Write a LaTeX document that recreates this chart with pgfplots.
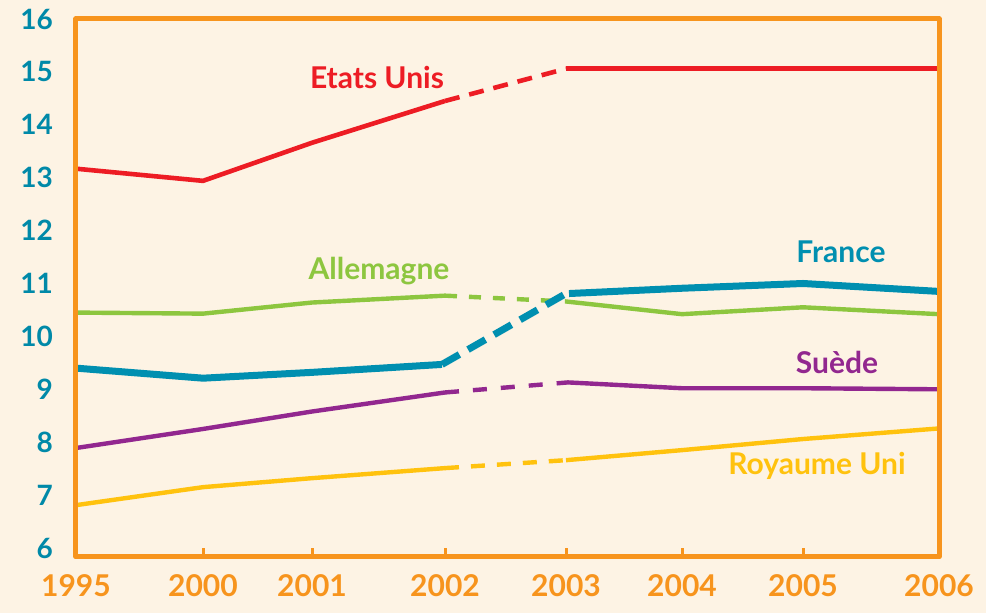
\documentclass[border=0pt]{standalone}
\usepackage{pgfplots}
\pgfplotsset{compat=1.18}
\usepackage{fontspec}
\setmainfont{Lato}

\definecolor{cream}{HTML}{FDF3E4}
\definecolor{axorange}{HTML}{F7941D}
\definecolor{usred}{HTML}{ED1C24}
\definecolor{degreen}{HTML}{8DC63F}
\definecolor{frblue}{HTML}{008FB0}
\definecolor{sepurple}{HTML}{92278F}
\definecolor{ukyellow}{HTML}{FFC20E}
\definecolor{ylab}{HTML}{0089A8}

\begin{document}
\begin{tikzpicture}
\fill[cream] (-38pt,-28pt) rectangle (455pt,278.5pt);
\begin{axis}[
    at={(0,0)}, anchor=south west,
    scale only axis,
    width=431.5pt, height=269pt,
    xmin=0, xmax=863,
    ymin=5.83, ymax=16,
    axis line style={draw=axorange, line width=2.5pt, line join=round},
    axis x line*=bottom, axis y line*=left,
    every outer x axis line/.append style={-},
    every outer y axis line/.append style={-},
    extra description/.code={
        \draw[axorange, line width=2.5pt, line join=round]
          (rel axis cs:0,0) -- (rel axis cs:0,1) -- (rel axis cs:1,1) -- (rel axis cs:1,0) -- cycle;
    },
    xtick={0,127,236,369,490,606,727,863},
    xticklabels={1995,2000,2001,2002,2003,2004,2005,2006},
    ytick={6,7,...,16},
    /pgf/number format/assume math mode=true,
    xticklabel style={font=\fontsize{15}{15}\selectfont\bfseries, text=axorange, yshift=-5.5pt},
    yticklabel style={font=\fontsize{14}{14}\selectfont\bfseries, text=ylab, xshift=-8pt},
    x tick style={draw=axorange, line width=1.5pt},
    y tick style={draw=none},
    major tick length=4.5pt,
    tick align=inside,
    clip=false,
]
% Etats Unis
\addplot[usred, line width=2.3pt] coordinates {(0,13.17) (127,12.94) (236,13.66) (369,14.45)};
\addplot[usred, line width=2.3pt, dash pattern=on 7.5pt off 5pt] coordinates {(369,14.45) (490,15.06)};
\addplot[usred, line width=2.3pt] coordinates {(490,15.06) (606,15.06) (727,15.06) (863,15.06)};
% Allemagne
\addplot[degreen, line width=2.2pt] coordinates {(0,10.45) (127,10.43) (236,10.64) (369,10.77)};
\addplot[degreen, line width=2.2pt, dash pattern=on 6pt off 6pt] coordinates {(369,10.77) (490,10.66)};
\addplot[degreen, line width=2.2pt] coordinates {(490,10.66) (606,10.42) (727,10.55) (863,10.42)};
% France
\addplot[frblue, line width=3.5pt] coordinates {(0,9.40) (127,9.21) (236,9.32) (366,9.47)};
\addplot[frblue, line width=3.5pt, dash pattern=on 10pt off 5pt] coordinates {(366,9.47) (490,10.81)};
\addplot[frblue, line width=3.5pt] coordinates {(493,10.81) (606,10.91) (727,11.0) (863,10.85)};
% Suede
\addplot[sepurple, line width=2.2pt] coordinates {(0,7.89) (127,8.25) (236,8.58) (369,8.94)};
\addplot[sepurple, line width=2.2pt, dash pattern=on 7pt off 7pt] coordinates {(369,8.94) (492,9.13)};
\addplot[sepurple, line width=2.2pt] coordinates {(492,9.13) (606,9.02) (727,9.02) (863,9.0)};
% Royaume Uni
\addplot[ukyellow, line width=2.2pt] coordinates {(0,6.81) (127,7.15) (236,7.32) (369,7.51)};
\addplot[ukyellow, line width=2.2pt, dash pattern=on 7pt off 6pt] coordinates {(369,7.51) (490,7.66)};
\addplot[ukyellow, line width=2.2pt] coordinates {(490,7.66) (606,7.85) (727,8.06) (863,8.26)};
% labels
\node[usred, font=\fontsize{15}{15}\selectfont\bfseries] at (axis cs:301,14.9) {Etats Unis};
\node[degreen, font=\fontsize{15}{15}\selectfont\bfseries] at (axis cs:303,11.23) {Allemagne};
\node[frblue, font=\fontsize{15}{15}\selectfont\bfseries] at (axis cs:765,11.6) {France};
\node[sepurple, font=\fontsize{15}{15}\selectfont\bfseries] at (axis cs:761,9.51) {Suède};
\node[ukyellow, font=\fontsize{15}{15}\selectfont\bfseries] at (axis cs:741,7.55) {Royaume Uni};
\end{axis}
\end{tikzpicture}
\end{document}
